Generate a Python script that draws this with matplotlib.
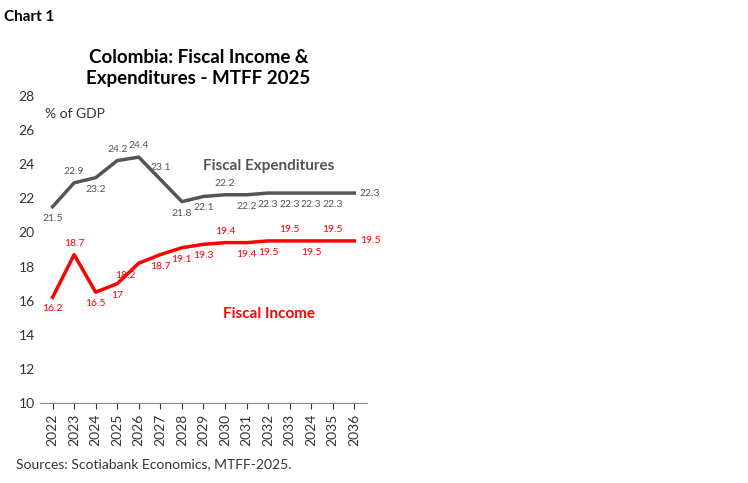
import matplotlib
matplotlib.use("Agg")
import matplotlib.pyplot as plt

years = ["2022","2023","2024","2025","2026","2027","2028","2029","2030","2031","2032","2033","2024","2035","2036"]
expenditures = [21.5,22.9,23.2,24.2,24.4,23.1,21.8,22.1,22.2,22.2,22.3,22.3,22.3,22.3,22.3]
income = [16.2,18.7,16.5,17,18.2,18.7,19.1,19.3,19.4,19.4,19.5,19.5,19.5,19.5,19.5]
exp_pos = ["b","a","b","a","a","a","b","b","a","b","b","b","b","b","r"]
inc_pos = ["b","a","b","b","l","b","b","b","a","b","b","a","b","a","r"]

plt.rcParams['font.family'] = ['Lato', 'DejaVu Sans']
fig = plt.figure(figsize=(7.48, 4.83), dpi=100)
ax = fig.add_axes([0.053, 0.165, 0.438, 0.637])
x = list(range(len(years)))
grey = "#555555"; red = "#ff0000"
ax.plot(x, expenditures, color=grey, lw=2.5)
ax.plot(x, income, color=red, lw=2.5)

def lab(vals, pos, col):
    for i, (v, p) in enumerate(zip(vals, pos)):
        t = f"{v:g}"
        kw = dict(textcoords="offset points", fontsize=7.5, color=col)
        if p == "a":
            ax.annotate(t, (i, v), xytext=(0, 5), ha="center", va="bottom", **kw)
        elif p == "b":
            ax.annotate(t, (i, v), xytext=(0, -5), ha="center", va="top", **kw)
        elif p == "l":
            ax.annotate(t, (i, v), xytext=(-2, -6), ha="right", va="top", **kw)
        else:
            ax.annotate(t, (i, v), xytext=(4, 0), ha="left", va="center", **kw)
lab(expenditures, exp_pos, grey)
lab(income, inc_pos, red)

ax.set_ylim(10, 28)
ax.set_yticks(range(10, 29, 2))
ax.set_xlim(-0.6, 14.6)
ax.set_xticks(x)
ax.set_xticklabels(years, rotation=90, fontsize=10)
ax.tick_params(axis='y', labelsize=10, length=0, colors="#333333")
ax.tick_params(axis='x', length=4, colors="#333333", direction='out')
for s in ["top", "right", "left"]:
    ax.spines[s].set_visible(False)
ax.spines["bottom"].set_color("#888888")
ax.text(-0.35, 26.9, "% of GDP", fontsize=10, color="#333333", va="center", ha="left")
ax.text(0.5, 23.9, "Fiscal Expenditures", fontsize=11, color=grey, fontweight="bold", ha="left", va="center", transform=ax.get_yaxis_transform())
ax.text(0.56, 15.2, "Fiscal Income", fontsize=11, color=red, fontweight="bold", ha="left", va="center", transform=ax.get_yaxis_transform())

fig.text(0.005, 0.965, "Chart 1", fontsize=11, fontweight="bold", va="center")
fig.text(0.265, 0.86, "Colombia: Fiscal Income &\nExpenditures - MTFF 2025", fontsize=13.5, fontweight="bold", ha="center", va="center", linespacing=1.3)
fig.text(0.022, 0.04, "Sources: Scotiabank Economics, MTFF-2025.", fontsize=10, color="#333333", va="center")
fig.savefig("out.png", dpi=100)
